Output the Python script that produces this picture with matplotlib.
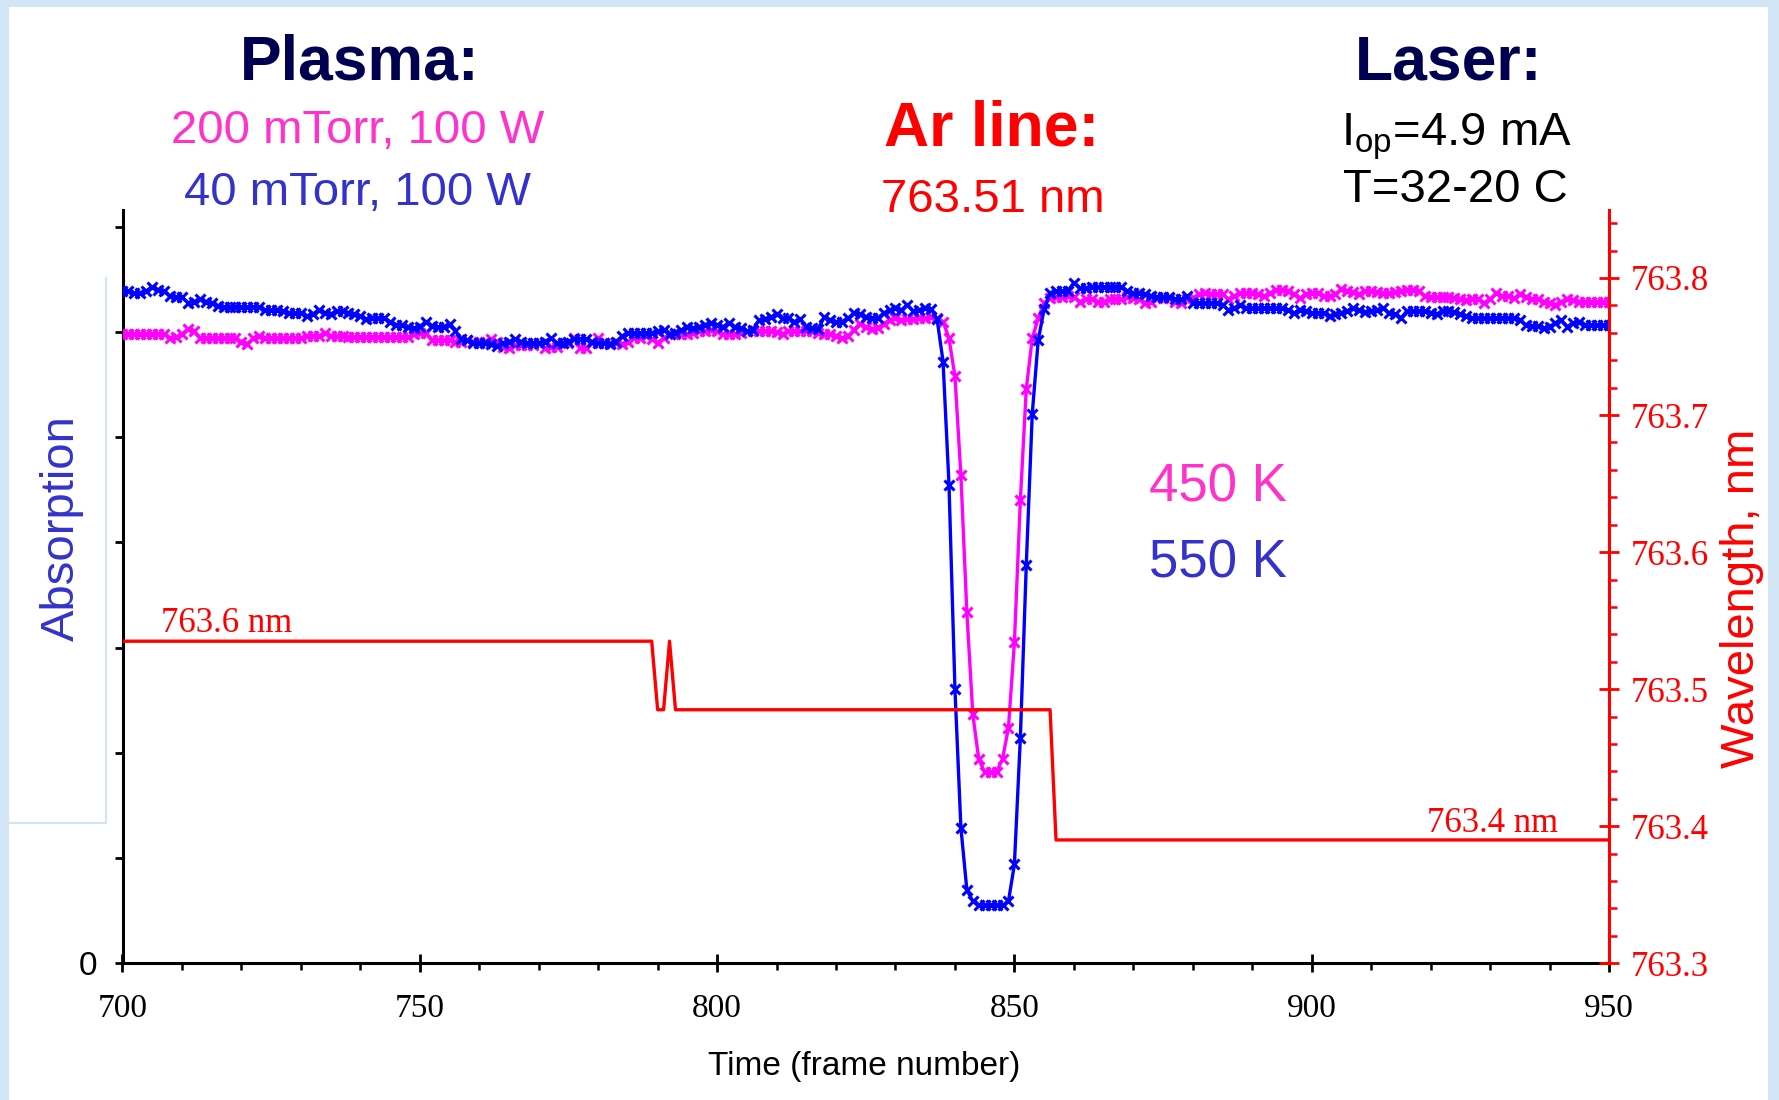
import numpy as np
import matplotlib
matplotlib.use('Agg')
import matplotlib.pyplot as plt
from matplotlib.patches import Rectangle
from matplotlib.lines import Line2D
from matplotlib.ticker import MultipleLocator, FormatStrFormatter

plt.rcParams['font.family'] = ['Liberation Sans', 'DejaVu Sans']
plt.rcParams['mathtext.fontset'] = 'custom'
plt.rcParams['mathtext.rm'] = 'Liberation Sans'
plt.rcParams['mathtext.it'] = 'Liberation Sans:italic'

# frame numbers, one sample per frame
frames = np.arange(700, 951)

# absorption, 40 mTorr / 100 W
absorption_40 = [
    6.39, 6.39, 6.37, 6.37, 6.39, 6.43, 6.40, 6.39, 6.34, 6.33,
    6.33, 6.28, 6.29, 6.31, 6.29, 6.28, 6.25, 6.24, 6.24, 6.24,
    6.24, 6.24, 6.24, 6.24, 6.21, 6.21, 6.21, 6.20, 6.18, 6.18,
    6.18, 6.15, 6.17, 6.21, 6.18, 6.17, 6.20, 6.20, 6.18, 6.17,
    6.15, 6.12, 6.13, 6.13, 6.13, 6.10, 6.07, 6.07, 6.05, 6.04,
    6.05, 6.10, 6.06, 6.05, 6.05, 6.08, 6.01, 5.93, 5.92, 5.90,
    5.90, 5.90, 5.89, 5.87, 5.90, 5.91, 5.93, 5.91, 5.90, 5.90,
    5.90, 5.91, 5.94, 5.90, 5.90, 5.91, 5.93, 5.93, 5.93, 5.91,
    5.90, 5.90, 5.89, 5.91, 5.96, 5.99, 5.99, 5.99, 5.99, 5.99,
    6.01, 6.02, 5.98, 5.99, 6.02, 6.05, 6.04, 6.05, 6.07, 6.09,
    6.07, 6.05, 6.09, 6.05, 6.04, 6.01, 6.02, 6.11, 6.12, 6.14,
    6.17, 6.13, 6.13, 6.10, 6.12, 6.05, 6.04, 6.03, 6.14, 6.11,
    6.10, 6.10, 6.13, 6.18, 6.17, 6.14, 6.13, 6.13, 6.18, 6.21,
    6.23, 6.21, 6.26, 6.20, 6.21, 6.23, 6.22, 6.12, 5.72, 4.55,
    2.61, 1.29, 0.70, 0.59, 0.55, 0.55, 0.55, 0.55, 0.55, 0.59,
    0.94, 2.14, 3.79, 5.22, 5.92, 6.22, 6.37, 6.39, 6.39, 6.39,
    6.47, 6.42, 6.42, 6.43, 6.43, 6.43, 6.43, 6.43, 6.43, 6.39,
    6.37, 6.37, 6.36, 6.34, 6.33, 6.33, 6.33, 6.31, 6.31, 6.34,
    6.28, 6.28, 6.28, 6.28, 6.28, 6.26, 6.21, 6.23, 6.26, 6.23,
    6.23, 6.23, 6.23, 6.23, 6.23, 6.23, 6.21, 6.18, 6.21, 6.20,
    6.18, 6.18, 6.18, 6.15, 6.17, 6.18, 6.20, 6.23, 6.21, 6.19,
    6.20, 6.21, 6.23, 6.18, 6.17, 6.13, 6.20, 6.20, 6.20, 6.20,
    6.18, 6.17, 6.20, 6.20, 6.19, 6.17, 6.15, 6.13, 6.13, 6.13,
    6.13, 6.13, 6.13, 6.13, 6.13, 6.11, 6.07, 6.06, 6.06, 6.04,
    6.05, 6.09, 6.11, 6.05, 6.09, 6.10, 6.07, 6.07, 6.07, 6.07,
    6.07,
]

# absorption, 200 mTorr / 100 W
absorption_200 = [
    5.98, 5.98, 5.98, 5.98, 5.98, 5.98, 5.98, 5.98, 5.94, 5.95,
    5.98, 6.03, 6.01, 5.94, 5.94, 5.94, 5.94, 5.94, 5.94, 5.94,
    5.91, 5.89, 5.94, 5.96, 5.94, 5.94, 5.94, 5.94, 5.94, 5.94,
    5.94, 5.96, 5.96, 5.96, 5.99, 5.96, 5.96, 5.96, 5.95, 5.95,
    5.95, 5.95, 5.95, 5.95, 5.95, 5.95, 5.95, 5.95, 5.95, 5.98,
    5.99, 5.99, 5.92, 5.92, 5.92, 5.92, 5.91, 5.91, 5.92, 5.91,
    5.91, 5.91, 5.93, 5.91, 5.86, 5.85, 5.88, 5.88, 5.88, 5.88,
    5.90, 5.85, 5.86, 5.86, 5.90, 5.90, 5.94, 5.85, 5.85, 5.90,
    5.94, 5.90, 5.90, 5.90, 5.89, 5.91, 5.94, 5.94, 5.96, 5.93,
    5.90, 5.94, 5.98, 5.98, 5.98, 5.98, 5.99, 6.01, 6.01, 6.02,
    6.01, 5.98, 5.98, 5.98, 5.99, 6.01, 6.01, 6.01, 6.01, 6.01,
    6.00, 5.98, 6.01, 6.01, 6.01, 6.01, 6.01, 5.99, 5.98, 5.98,
    5.96, 5.94, 5.96, 6.02, 6.08, 6.05, 6.03, 6.04, 6.08, 6.11,
    6.13, 6.11, 6.12, 6.12, 6.13, 6.13, 6.14, 6.13, 6.10, 5.94,
    5.58, 4.64, 3.34, 2.37, 1.94, 1.82, 1.82, 1.82, 1.94, 2.24,
    3.05, 4.40, 5.46, 5.94, 6.13, 6.28, 6.32, 6.33, 6.33, 6.34,
    6.33, 6.29, 6.31, 6.31, 6.29, 6.29, 6.31, 6.31, 6.31, 6.33,
    6.32, 6.31, 6.28, 6.29, 6.32, 6.32, 6.32, 6.29, 6.28, 6.31,
    6.32, 6.36, 6.37, 6.36, 6.36, 6.36, 6.31, 6.34, 6.37, 6.37,
    6.37, 6.36, 6.34, 6.37, 6.40, 6.40, 6.39, 6.36, 6.32, 6.36,
    6.37, 6.37, 6.34, 6.34, 6.36, 6.41, 6.39, 6.38, 6.36, 6.39,
    6.39, 6.38, 6.37, 6.37, 6.38, 6.39, 6.40, 6.40, 6.39, 6.34,
    6.33, 6.33, 6.33, 6.33, 6.32, 6.31, 6.30, 6.31, 6.31, 6.28,
    6.31, 6.37, 6.34, 6.34, 6.32, 6.36, 6.33, 6.31, 6.31, 6.29,
    6.28, 6.26, 6.29, 6.31, 6.30, 6.29, 6.29, 6.29, 6.29, 6.29,
    6.29,
]

# laser wavelength (nm): vertices of the step trace
wl_frames = [700, 789, 790, 791, 792, 793, 856, 857, 950]
wl_values = [763.535, 763.535, 763.485, 763.485, 763.535, 763.485, 763.485, 763.39, 763.39]

W, H = 1779, 1100
fig = plt.figure(figsize=(W / 100, H / 100), dpi=100)
fig.patch.set_facecolor('#d2e5f7')
fig.add_artist(Rectangle((9 / W, 0), (1768 - 9) / W, (H - 7) / H, transform=fig.transFigure,
                         facecolor='white', edgecolor='none', zorder=-10))
# faint frame left over from the label box
fig.add_artist(Line2D([106 / W, 106 / W], [1 - 278 / H, 1 - 823 / H], transform=fig.transFigure,
                      color='#d3e4f5', lw=1.5))
fig.add_artist(Line2D([9 / W, 106 / W], [1 - 823 / H, 1 - 823 / H], transform=fig.transFigure,
                      color='#d3e4f5', lw=1.5))

left, right, bottom, top = 122.5, 1609, 963.3, 210
ax = fig.add_axes([left / W, 1 - bottom / H, (right - left) / W, (bottom - top) / H])

pink = '#ff00ff'
blue = '#0000ff'
red = '#ff0000'
ax.plot(frames, absorption_200, color=pink, lw=2.4, marker='x', ms=6.5, mew=2.2, zorder=3)
ax.plot(frames, absorption_40, color=blue, lw=2.4, marker='x', ms=6.5, mew=2.2, zorder=4)

ax.set_xlim(700, 950)
ax.set_ylim(0, 7.16)
for s in ['top', 'right']:
    ax.spines[s].set_visible(False)
for s in ['left', 'bottom']:
    ax.spines[s].set_linewidth(2.2)
    ax.spines[s].set_color('black')

ax.xaxis.set_major_locator(MultipleLocator(50))
ax.xaxis.set_minor_locator(MultipleLocator(10))
ax.tick_params(axis='x', which='major', direction='inout', length=13, width=2, pad=15,
               labelsize=24, colors='black')
ax.tick_params(axis='x', which='minor', direction='out', length=5, width=1.8)
for lab in ax.get_xticklabels():
    lab.set_fontfamily('Liberation Serif')

ax.set_yticks(range(0, 8))
ax.set_yticklabels(['0'] + [''] * 7)
ax.tick_params(axis='y', direction='out', length=6, width=2, pad=12, labelsize=24)

# wavelength axis on the right
ax2 = ax.twinx()
ax2.set_ylim(763.3, 763.3 + (bottom - top) / 1370.6)
ax2.plot(wl_frames, wl_values, color=red, lw=2.4, zorder=5)
for s in ['top', 'left', 'bottom']:
    ax2.spines[s].set_visible(False)
ax2.spines['right'].set_color(red)
ax2.spines['right'].set_linewidth(2.2)
ax2.yaxis.set_major_locator(MultipleLocator(0.1))
ax2.yaxis.set_minor_locator(MultipleLocator(0.02))
ax2.yaxis.set_major_formatter(FormatStrFormatter('%.1f'))
ax2.tick_params(axis='y', which='major', direction='inout', length=14, width=2, pad=9,
                labelsize=25, colors=red)
ax2.tick_params(axis='y', which='minor', direction='out', length=6, width=1.8, colors=red)
for lab in ax2.get_yticklabels():
    lab.set_fontfamily('Liberation Serif')

ax2.text(706.5, 763.548, '763.6 nm', color=red, fontsize=25, family='Liberation Serif',
         ha='left', va='center')
ax2.text(941.4, 763.402, '763.4 nm', color=red, fontsize=25, family='Liberation Serif',
         ha='right', va='center')

# axis titles
fig.text(62 / W, 1 - 528 / H, 'Absorption', rotation=90, ha='center', va='center',
         fontsize=34, color='#3333cc')
fig.text(1742 / W, 1 - 598 / H, 'Wavelength, nm', rotation=90, ha='center', va='center',
         fontsize=34, color=red)
fig.text(864 / W, 1 - 1067 / H, 'Time (frame number)', ha='center', va='center',
         fontsize=24, color='black')

# headers
navy = '#000050'
fig.text(360 / W, 1 - 80 / H, 'Plasma:', ha='center', va='baseline', fontsize=45,
         fontweight='bold', color=navy)
fig.text(358 / W, 1 - 143 / H, '200 mTorr, 100 W', ha='center', va='baseline', fontsize=34,
         color='#ff33cc')
fig.text(357 / W, 1 - 205 / H, '40 mTorr, 100 W', ha='center', va='baseline', fontsize=34,
         color='#3333cc')
fig.text(992 / W, 1 - 145 / H, 'Ar line:', ha='center', va='baseline', fontsize=45,
         fontweight='bold', color=red)
fig.text(993 / W, 1 - 212 / H, '763.51 nm', ha='center', va='baseline', fontsize=34, color=red)
fig.text(1449 / W, 1 - 79.5 / H, 'Laser:', ha='center', va='baseline', fontsize=45,
         fontweight='bold', color=navy)
fig.text(1456 / W, 1 - 145 / H, r'I$_{\mathrm{op}}$=4.9 mA', ha='center', va='baseline',
         fontsize=34, color='black')
fig.text(1455 / W, 1 - 202 / H, 'T=32-20 C', ha='center', va='baseline', fontsize=34,
         color='black')

# temperatures
fig.text(1218 / W, 1 - 501.5 / H, '450 K', ha='center', va='baseline', fontsize=38,
         color='#ff33cc')
fig.text(1218 / W, 1 - 577.5 / H, '550 K', ha='center', va='baseline', fontsize=38,
         color='#3333cc')

fig.savefig('out.png', dpi=100, facecolor=fig.get_facecolor())
